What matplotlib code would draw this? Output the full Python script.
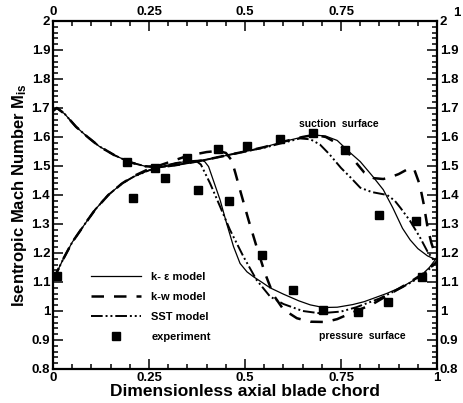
import matplotlib
matplotlib.use("Agg")
import matplotlib.pyplot as plt
import matplotlib.transforms as mtransforms
import numpy as np

plt.rcParams["font.family"] = ["Liberation Sans", "DejaVu Sans"]
plt.rcParams["font.weight"] = "bold"
plt.rcParams["axes.labelweight"] = "bold"
plt.rcParams["mathtext.fontset"] = "custom"
plt.rcParams["mathtext.bf"] = "Liberation Sans:bold"
plt.rcParams["mathtext.rm"] = "Liberation Sans:bold"
plt.rcParams["mathtext.default"] = "bf"

# k-epsilon model, suction surface
ke_ss_x = [0.0, 0.01, 0.03, 0.06, 0.09, 0.12, 0.16, 0.20, 0.24, 0.28, 0.32, 0.36, 0.40,
           0.45, 0.50, 0.55, 0.60, 0.65, 0.68, 0.71, 0.74, 0.77, 0.80, 0.83, 0.86,
           0.885, 0.91, 0.93, 0.95, 0.975, 1.0]
ke_ss_y = [1.69, 1.70, 1.68, 1.635, 1.60, 1.568, 1.537, 1.513, 1.499, 1.496, 1.503, 1.512,
           1.522, 1.536, 1.55, 1.565, 1.584, 1.60, 1.607, 1.603, 1.588, 1.55, 1.515,
           1.468, 1.418, 1.355, 1.285, 1.245, 1.215, 1.19, 1.175]
# k-epsilon model, pressure surface
ke_ps_x = [0.0, 0.005, 0.027, 0.05, 0.083, 0.11, 0.144, 0.18, 0.21, 0.25, 0.28, 0.32,
           0.36, 0.385, 0.395, 0.405, 0.417, 0.435, 0.452, 0.47, 0.487, 0.505, 0.522,
           0.545, 0.565, 0.60, 0.64, 0.67, 0.704, 0.74, 0.78, 0.81, 0.87, 0.91, 0.955,
           0.98, 1.0]
ke_ps_y = [1.11, 1.12, 1.18, 1.237, 1.30, 1.35, 1.40, 1.44, 1.463, 1.485, 1.497, 1.51,
           1.518, 1.52, 1.515, 1.498, 1.452, 1.383, 1.302, 1.222, 1.164, 1.135, 1.118,
           1.098, 1.08, 1.058, 1.035, 1.021, 1.012, 1.013, 1.022, 1.032, 1.061, 1.084,
           1.118, 1.15, 1.185]

# k-w model
kw_ss_x = [0.0, 0.01, 0.03, 0.06, 0.09, 0.12, 0.16, 0.20, 0.24, 0.28, 0.32, 0.36, 0.40,
           0.45, 0.50, 0.55, 0.60, 0.65, 0.68, 0.71, 0.74, 0.765, 0.79, 0.81, 0.835,
           0.86, 0.88, 0.90, 0.925, 0.94, 0.955, 0.965, 0.975, 0.985, 0.995, 1.0]
kw_ss_y = [1.69, 1.70, 1.68, 1.635, 1.60, 1.568, 1.537, 1.513, 1.499, 1.496, 1.503, 1.512,
           1.522, 1.536, 1.55, 1.565, 1.584, 1.60, 1.607, 1.60, 1.578, 1.552, 1.51,
           1.478, 1.458, 1.455, 1.462, 1.472, 1.49, 1.49, 1.435, 1.37, 1.29, 1.235,
           1.195, 1.18]
kw_ps_x = [0.0, 0.005, 0.027, 0.05, 0.083, 0.11, 0.144, 0.18, 0.21, 0.25, 0.28, 0.30,
           0.35, 0.40, 0.43, 0.45, 0.465, 0.475, 0.487, 0.509, 0.53, 0.552, 0.574, 0.60,
           0.635, 0.67, 0.71, 0.74, 0.78, 0.83, 0.87, 0.93, 0.965, 1.0]
kw_ps_y = [1.11, 1.12, 1.18, 1.237, 1.30, 1.35, 1.40, 1.44, 1.465, 1.49, 1.503, 1.512,
           1.535, 1.548, 1.552, 1.545, 1.52, 1.475, 1.417, 1.314, 1.222, 1.13, 1.055,
           1.005, 0.975, 0.963, 0.962, 0.972, 0.995, 1.022, 1.053, 1.10, 1.13, 1.17]

# SST model
sst_ss_x = [0.0, 0.01, 0.03, 0.06, 0.09, 0.12, 0.16, 0.20, 0.24, 0.28, 0.32, 0.36, 0.40,
            0.45, 0.50, 0.55, 0.60, 0.643, 0.67, 0.695, 0.72, 0.75, 0.775, 0.80, 0.83,
            0.87, 0.89, 0.905, 0.93, 0.955, 0.975, 0.99, 1.0]
sst_ss_y = [1.69, 1.70, 1.68, 1.635, 1.60, 1.568, 1.537, 1.513, 1.499, 1.496, 1.503,
            1.512, 1.522, 1.536, 1.55, 1.563, 1.58, 1.595, 1.592, 1.574, 1.54, 1.493,
            1.46, 1.425, 1.41, 1.40, 1.38, 1.355, 1.31, 1.255, 1.205, 1.178, 1.17]
sst_ps_x = [0.0, 0.005, 0.027, 0.05, 0.083, 0.11, 0.144, 0.18, 0.21, 0.25, 0.28, 0.32,
            0.36, 0.375, 0.385, 0.409, 0.435, 0.461, 0.496, 0.53, 0.565, 0.60, 0.65,
            0.695, 0.75, 0.79, 0.85, 0.91, 0.955, 0.98, 1.0]
sst_ps_y = [1.11, 1.12, 1.18, 1.237, 1.30, 1.35, 1.40, 1.44, 1.463, 1.485, 1.497, 1.51,
            1.518, 1.515, 1.505, 1.44, 1.36, 1.279, 1.187, 1.107, 1.05, 1.024, 1.0,
            0.992, 0.998, 1.013, 1.043, 1.082, 1.116, 1.145, 1.17]

# experiment
exp_x = [0.01, 0.192, 0.207, 0.266, 0.292, 0.348, 0.378, 0.43, 0.457, 0.504, 0.543,
         0.591, 0.626, 0.676, 0.702, 0.760, 0.795, 0.850, 0.873, 0.944, 0.96]
exp_y = [1.12, 1.515, 1.389, 1.492, 1.460, 1.527, 1.417, 1.559, 1.38, 1.570, 1.193,
         1.592, 1.072, 1.613, 1.003, 1.555, 0.998, 1.331, 1.032, 1.311, 1.118]

fig = plt.figure(figsize=(4.63, 4.03), dpi=100)
ax = fig.add_axes([0.1145, 0.0844, 0.8295, 0.8636])

sst_dash = (0, (6, 1.5, 1, 1.5, 1, 1.5))
ax.plot(ke_ss_x, ke_ss_y, color="black", lw=0.9, label="k- ε model")
ax.plot(ke_ps_x, ke_ps_y, color="black", lw=0.9)
ax.plot(kw_ss_x, kw_ss_y, color="black", lw=1.8, ls=(0, (5, 4)), label="k-w model")
ax.plot(kw_ps_x, kw_ps_y, color="black", lw=1.8, ls=(0, (5, 4)))
ax.plot(sst_ss_x, sst_ss_y, color="black", lw=1.4, ls=sst_dash, label="SST model")
ax.plot(sst_ps_x, sst_ps_y, color="black", lw=1.4, ls=sst_dash)
ax.plot(exp_x, exp_y, ls="none", marker="s", ms=6, color="black", label="experiment")

ax.text(0.745, 1.645, "suction  surface", fontsize=7.5, ha="center", va="center")
ax.text(0.805, 0.914, "pressure  surface", fontsize=7.5, ha="center", va="center")

ax.set_xlim(0, 1)
ax.set_ylim(0.8, 2)
ax.set_xticks([0, 0.25, 0.5, 0.75, 1])
ax.set_xticklabels(["0", "0.25", "0.5", "0.75", "1"])
ax.set_xticks(np.arange(0, 1.001, 0.05), minor=True)
yt = np.round(np.arange(0.8, 2.001, 0.1), 1)
ax.set_yticks(yt)
ax.set_yticklabels(["1" if v == 1 else ("2" if v == 2 else f"{v:g}") for v in yt])
ax.set_yticks(np.arange(0.8, 2.001, 0.02), minor=True)
ax.tick_params(which="both", direction="in", top=True, right=True,
               labeltop=True, labelright=True, labelsize=9.5, pad=2, width=1.1)
ax.tick_params(which="major", length=7)
ax.tick_params(which="minor", length=3.5)
for s in ax.spines.values():
    s.set_linewidth(1.6)

# the top "1" sits right of the corner, as in the original
top_one = ax.xaxis.get_major_ticks()[-1].label2
top_one.set_transform(top_one.get_transform() +
                      mtransforms.ScaledTranslation(0.2, -0.01, fig.dpi_scale_trans))

ax.set_xlabel("Dimensionless axial blade chord", fontsize=12.5, labelpad=0)
ax.set_ylabel(r"Isentropic Mach Number M$_{is}$", fontsize=12, labelpad=2)

ax.legend(loc="upper left", bbox_to_anchor=(0.10, 0.28), frameon=False, fontsize=8,
          handlelength=4.5, handletextpad=0.9, labelspacing=0.92, borderpad=0,
          borderaxespad=0)

fig.savefig("out.png", dpi=100)
